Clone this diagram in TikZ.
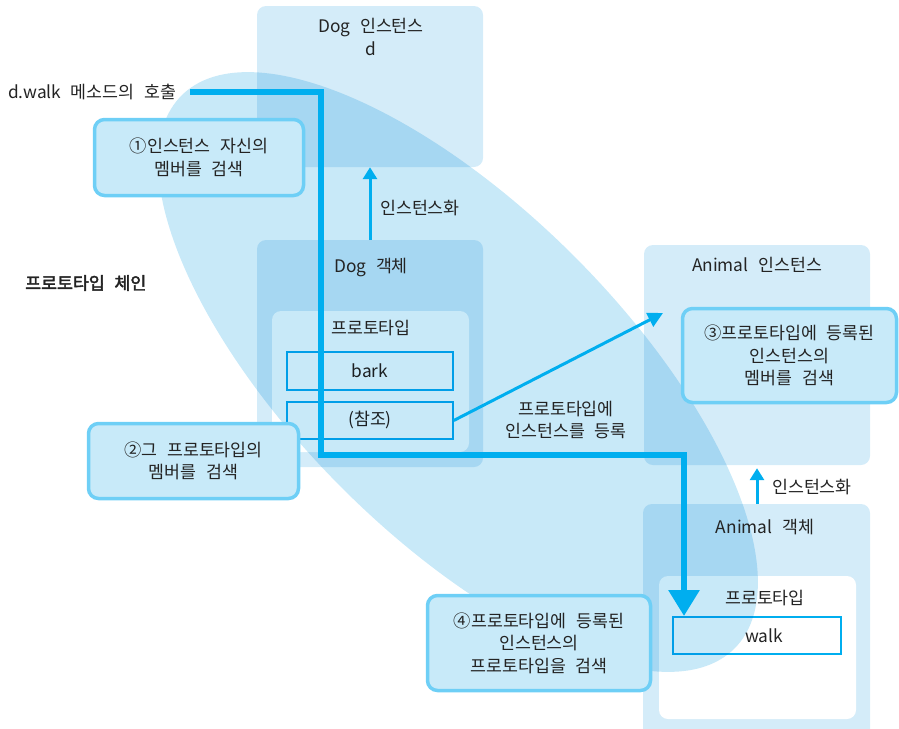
\documentclass[tikz,border=0pt]{standalone}
\usepackage{fontspec}
\setmainfont{Noto Sans CJK KR}[WordSpace=2.5]
\newfontfamily\krbold{Noto Sans CJK KR}[WordSpace=2.5,FakeBold=2.5]
\usetikzlibrary{arrows.meta}
\definecolor{boxbg}{RGB}{212,236,249}
\definecolor{ellbg}{RGB}{200,233,248}
\definecolor{callbg}{RGB}{200,234,249}
\definecolor{callborder}{RGB}{110,207,246}
\definecolor{cyanline}{RGB}{0,174,239}
\definecolor{txt}{RGB}{35,35,35}
\begin{document}
\begin{tikzpicture}[x=1pt,y=-1pt,
  every node/.style={font=\fontsize{17.3}{22.5}\selectfont, text=txt},
  region/.style={fill=boxbg, rounded corners=9pt, draw=none, inner sep=0pt},
  innerbox/.style={fill=white, rounded corners=9pt, draw=none, inner sep=0pt},
  slot/.style={draw=cyanline, line width=1.5pt, fill=white, inner sep=0pt},
  callout/.style={draw=callborder, line width=3.5pt, fill=callbg, rounded corners=10pt, align=center, inner sep=0pt},
  txtnode/.style={align=center, inner sep=0pt},
  mainline/.style={draw=cyanline, line width=6pt},
  thinarrow/.style={draw=cyanline, line width=3pt},
]
\useasboundingbox (0,0) rectangle (899,728);

% regions
\node[region, minimum width=226pt, minimum height=161pt] (doginst) at (370,86.5) {};
\node[region, minimum width=226pt, minimum height=227pt] (dogobj) at (370,353.5) {};
\node[innerbox, minimum width=197pt, minimum height=141pt] (dogproto) at (370.5,381.5) {};
\node[slot, minimum width=166pt, minimum height=38pt] (bark) at (370,371) {bark};
\node[slot, minimum width=166pt, minimum height=37pt] (ref) at (370,420.5) {(참조)};

\node[region, minimum width=226pt, minimum height=220pt] (animinst) at (757,355) {};
\node[region, minimum width=227pt, minimum height=236pt] (animobj) at (756.5,622) {};
\node[innerbox, minimum width=197pt, minimum height=143pt] (animproto) at (757.5,647.5) {};
\node[slot, minimum width=168pt, minimum height=37pt] (walk) at (757,635.5) {};
\node[txtnode] (walklbl) at (764,636) {walk};

% prototype chain ellipse
\begin{scope}[blend mode=multiply]
\fill[ellbg, rotate around={-45:(458,372)}] (458,372) ellipse [x radius=391pt, y radius=164pt];
\end{scope}

% labels
\node[txtnode] (doginstlbl) at (371,37) {Dog 인스턴스\\d};
\node[txtnode] (dogobjlbl) at (371,268) {Dog 객체};
\node[txtnode] (dogprotolbl) at (371,328) {프로토타입};
\node[txtnode, anchor=west] (inst1lbl) at (380,208) {인스턴스화};
\node[txtnode] (reglbl) at (566,420) {프로토타입에\\인스턴스를 등록};
\node[txtnode] (animinstlbl) at (757,265) {Animal 인스턴스};
\node[txtnode, anchor=west] (inst2lbl) at (772,487) {인스턴스화};
\node[txtnode] (animobjlbl) at (765,527) {Animal 객체};
\node[txtnode] (animprotolbl) at (765,598) {프로토타입};
\node[txtnode, anchor=west] (call) at (8,92) {d.walk 메소드의 호출};
\node[txtnode, anchor=west, font=\fontsize{17.3}{22.5}\krbold] (title) at (25,283) {프로토타입 체인};

% connectors
\coordinate (start) at (190,92);
\coordinate (turn1) at (321,455);
\coordinate (tip) at (684,616);
\coordinate (regtip) at (663,313);
\draw[mainline, -{Triangle[width=30pt,length=26pt]}] (start) -| (turn1) -| (tip);
\draw[thinarrow, -{Triangle[width=15pt,length=15pt]}] (ref.east) -- (regtip);
\draw[thinarrow, -{Triangle[width=14pt,length=12pt]}] (dogobj.north) -- (doginst.south);
\draw[thinarrow, -{Triangle[width=14pt,length=12pt]}, shorten >=3pt] (animobj.north -| animinst.south) -- (animinst.south);

% callouts
\node[callout, minimum width=209pt, minimum height=76pt] (c1) at (199,157.5) {①인스턴스 자신의\\멤버를 검색};
\node[callout, minimum width=210pt, minimum height=75pt] (c2) at (193.5,461) {②그 프로토타입의\\멤버를 검색};
\node[callout, minimum width=214pt, minimum height=94pt] (c3) at (789.5,355.5) {③프로토타입에 등록된\\인스턴스의\\멤버를 검색};
\node[callout, minimum width=223pt, minimum height=95pt] (c4) at (539,643) {④프로토타입에 등록된\\인스턴스의\\프로토타입을 검색};
\end{tikzpicture}
\end{document}
